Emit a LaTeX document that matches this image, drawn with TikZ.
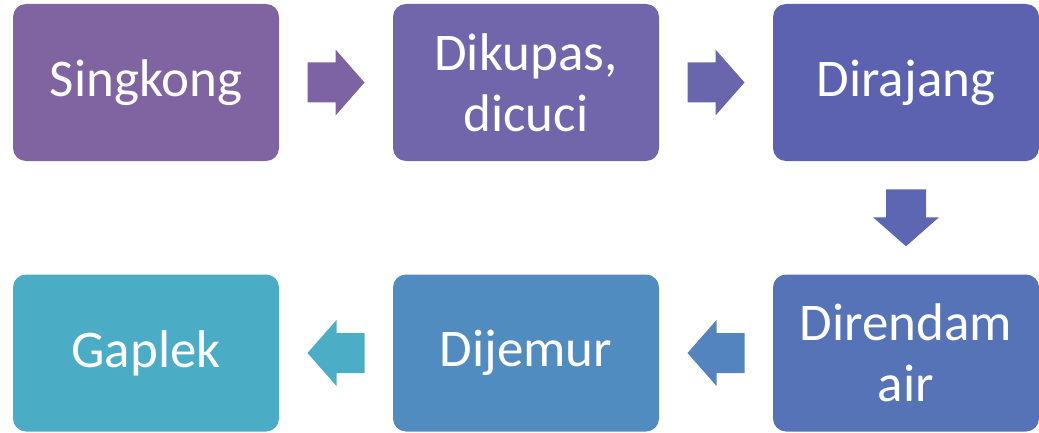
\documentclass[tikz,border=0pt]{standalone}
\usepackage{fontspec}
\setmainfont{Carlito}
\usetikzlibrary{calc}
\definecolor{c1}{HTML}{8064A2}
\definecolor{c2}{HTML}{7166AC}
\definecolor{c3}{HTML}{5C62B0}
\definecolor{c4}{HTML}{5773B8}
\definecolor{c5}{HTML}{508CBF}
\definecolor{c6}{HTML}{4BACC6}
\definecolor{a1}{HTML}{7E63A4}
\definecolor{a2}{HTML}{6A66AE}
\definecolor{a3}{HTML}{5C66B3}
\definecolor{a4}{HTML}{5384BF}
\definecolor{a5}{HTML}{4BADC6}
\tikzset{
  stepbox/.style={rectangle, rounded corners=13pt, minimum width=266pt, minimum height=157pt,
    inner sep=0pt, text width=260pt, align=center, text=white,
    font=\fontsize{53}{61}\selectfont},
}
\begin{document}
\begin{tikzpicture}[x=1pt,y=1pt]
\useasboundingbox (0,0) rectangle (1039,432);
\node[stepbox, fill=c1] (s1) at (146,349.5) {Singkong};
\node[stepbox, fill=c2] (s2) at (526,349.5) {Dikupas,\\dicuci};
\node[stepbox, fill=c3] (s3) at (906,349.5) {Dirajang};
\node[stepbox, fill=c4] (s4) at (906,79) {Direndam\\air};
\node[stepbox, fill=c5] (s5) at (526,79) {Dijemur};
\node[stepbox, fill=c6] (s6) at (146,79) {Gaplek};
% arrows
\coordinate (m1) at ($(s1.east)!0.5!(s2.west)$);
\coordinate (m2) at ($(s2.east)!0.5!(s3.west)$);
\coordinate (m3) at ($(s3.south)!0.5!(s4.north)$);
\coordinate (m4) at ($(s4.west)!0.5!(s5.east)$);
\coordinate (m5) at ($(s5.west)!0.5!(s6.east)$);
\fill[a1] (m1) ++(-28.5,20) -- ++(28,0) -- ++(0,13) -- ++(29,-33) -- ++(-29,-33) -- ++(0,13) -- ++(-28,0) -- cycle;
\fill[a2] (m2) ++(-28.5,20) -- ++(28,0) -- ++(0,13) -- ++(29,-33) -- ++(-29,-33) -- ++(0,13) -- ++(-28,0) -- cycle;
\fill[a3] (m3) ++(-20,28.5) -- ++(0,-28) -- ++(-13,0) -- ++(33,-29) -- ++(33,29) -- ++(-13,0) -- ++(0,28) -- cycle;
\fill[a4] (m4) ++(28.5,20) -- ++(-28,0) -- ++(0,13) -- ++(-29,-33) -- ++(29,-33) -- ++(0,13) -- ++(28,0) -- cycle;
\fill[a5] (m5) ++(28.5,20) -- ++(-28,0) -- ++(0,13) -- ++(-29,-33) -- ++(29,-33) -- ++(0,13) -- ++(28,0) -- cycle;
\end{tikzpicture}
\end{document}
